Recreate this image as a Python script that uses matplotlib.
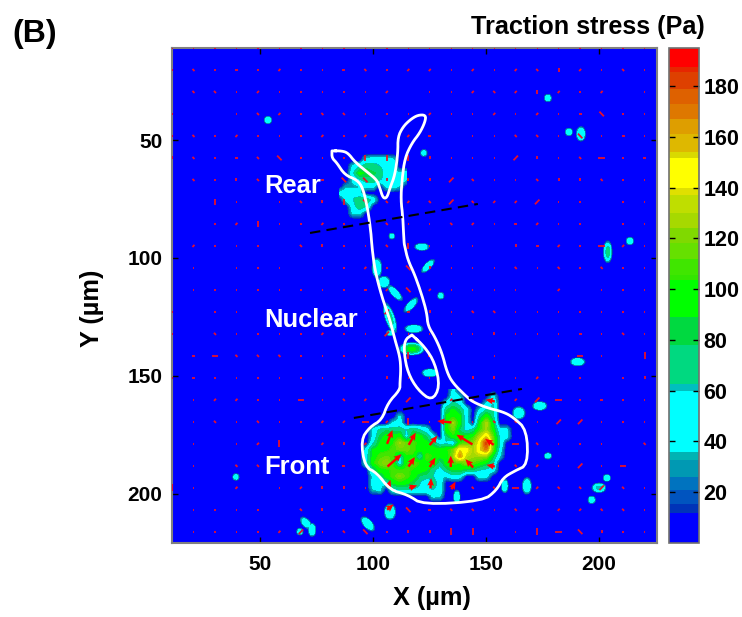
import numpy as np
import matplotlib
matplotlib.use("Agg")
import matplotlib.pyplot as plt
from matplotlib.collections import LineCollection

plt.rcParams['font.family'] = ['Liberation Sans', 'DejaVu Sans']
plt.rcParams['font.weight'] = 'bold'

X_TICKS = [50, 100, 150, 200]
Y_TICKS = [50, 100, 150, 200]
CBAR_TICKS = [20, 40, 60, 80, 100, 120, 140, 160, 180]
X_LIM = (11, 225.7)
Y_LIM = (220.8, 11)

# colour bands of the traction scale
BAND_EDGES = [0, 11.7, 15.3, 20.8, 26, 32.6, 36, 60, 62.5, 78, 89, 103.7, 105.7, 112, 118, 124,
              130, 137, 140, 151.5, 154, 161, 167, 173, 179, 185.6, 187.6, 195]
BAND_COLOURS = [(0, 0, 1), (0, .2, .72), (0, .33, .75), (0, .45, .75), (0, .6, .7), (0, .7, .7),
                (0, 1, 1), (0, .75, .75), (0, .85, .5), (0, .85, .25), (0, 1, 0), (.2, .9, 0),
                (.25, .9, 0), (.4, .88, 0), (.5, .85, 0), (.65, .85, 0), (.75, .87, 0), (.88, .88, 0),
                (1, 1, 0), (.85, .85, 0), (.87, .72, 0), (.87, .62, 0), (.87, .47, 0), (.87, .38, 0),
                (.87, .25, 0), (.9, .15, 0), (1, 0, 0)]

# traction (Pa) sampled over the front of the cell
FRONT_X0, FRONT_DX, FRONT_Y0, FRONT_DY = 94.15, 2.95, 155.9, 2.82
FRONT = [
 [0,0,0,0,0,0,0,0,0,0,0,0,0,0,40,0,0,0,0,0,0,0,0,0],
 [0,0,0,0,0,0,0,0,0,0,0,0,0,0,50,35,0,0,0,0,40,0,0,0],
 [0,0,0,0,0,0,0,0,0,0,0,0,0,40,65,50,0,0,0,35,60,0,0,0],
 [0,0,0,0,0,0,0,0,0,0,0,0,0,75,92,75,45,0,35,60,65,0,0,0],
 [0,0,0,0,0,0,40,0,0,0,0,0,0,92,100,92,40,0,65,100,65,0,0,0],
 [0,0,0,0,0,40,45,0,0,0,0,0,0,92,125,92,45,0,95,130,85,0,0,0],
 [0,0,40,65,75,70,70,60,75,60,45,0,0,95,115,75,50,65,105,125,95,40,40,0],
 [0,0,40,80,95,95,100,45,95,95,75,40,0,70,98,95,92,100,130,150,110,55,45,0],
 [0,0,55,90,98,102,125,115,108,98,95,75,45,55,30,102,110,120,145,185,115,60,0,0],
 [0,45,90,98,100,108,115,115,108,95,100,98,95,100,115,150,145,125,150,170,110,45,0,0],
 [0,50,95,108,112,108,50,100,102,50,108,102,92,95,120,165,130,125,125,120,80,35,0,0],
 [0,50,100,115,125,102,35,102,110,102,102,98,65,95,108,102,120,110,98,85,60,0,0,0],
 [0,0,65,98,100,108,102,108,102,98,90,65,50,70,90,90,80,75,60,55,45,0,0,0],
 [0,0,40,65,95,108,120,108,98,75,70,60,40,35,50,45,0,0,45,40,0,0,0,0],
 [0,0,45,40,45,90,98,92,80,60,35,70,50,0,0,0,0,0,0,0,0,0,0,0],
 [0,0,35,40,0,50,60,60,55,55,60,60,50,0,0,0,0,0,0,0,0,0,0,0],
 [0,0,0,0,0,0,0,0,0,0,0,40,35,0,0,0,0,0,0,0,0,0,0,0],
 [0,0,0,0,0,0,0,0,0,0,0,0,0,0,0,0,0,0,0,0,0,0,0,0],
]
# traction (Pa) sampled over the rear of the cell
REAR_X0, REAR_DX, REAR_Y0, REAR_DY = 85.3, 2.95, 55.6, 2.82
REAR = [
 [0,0,0,0,0,0,0,0,0,0,0],
 [0,0,0,0,45,50,50,50,40,0,0],
 [0,0,40,60,75,70,60,50,40,0,0],
 [0,0,55,95,85,80,75,40,40,40,45],
 [0,0,40,55,70,75,60,50,55,50,35],
 [0,30,30,35,40,40,0,40,45,30,0],
 [45,50,50,40,0,0,0,0,0,0,0],
 [0,45,60,75,75,50,0,0,0,0,0],
 [0,0,50,75,60,0,0,0,0,0,0],
 [0,0,40,40,0,0,0,0,0,0,0],
 [0,0,0,0,0,0,0,0,0,0,0],
]
# isolated hot spots
SPOT_X = [53.5,39.3,70.3,73,67.6,177.4,186.7,192,203.9,213.7,190.6,173.8,164.5,177.4,158.3,168.1,200,
          203.5,196.8,107.5,97.7,137.1,125.2,121.6,124.3,101.7,104.8,109.7,130,116.8,107.5,118.1,117.2,
          107.5,122.5,108.3]
SPOT_Y = [41.5,192.8,212.3,215.2,216,32.2,46.6,47.4,97.4,92.8,144,162.7,165.7,183.9,196.6,196.6,197.4,
          193.2,202.5,207.6,212.7,201.3,148.7,95.3,103.4,104.2,110.2,114.8,116,119.9,125.4,130,138.5,
          131.8,55.5,90.7]
SPOT_A = [.9,.8,1.8,.9,.8,.9,.9,1.1,1,.9,1.8,1.8,1.6,.9,.8,1.1,1.7,.9,.9,1.4,2.2,.8,2,1.8,2.2,1.2,1.5,
          2.6,.8,2.4,3.8,2.3,3,.9,.8,.7]
SPOT_B = [.9,.8,.9,1.6,.8,.9,.9,1.7,2.6,.9,.9,1,1.5,.7,1.7,2,1.1,.8,.9,1.9,1,1.7,.9,.8,.7,2.4,1.4,.8,
          .8,.8,1.1,.9,1.4,.7,.8,.7]
SPOT_ANGLE = [0,0,45,0,0,0,0,0,0,0,0,0,0,0,0,0,0,0,0,0,45,0,0,0,-45,0,0,45,0,-45,70,0,0,0,0,0]
SPOT_PEAK = [50,45,50,55,45,45,50,60,65,50,60,58,52,50,52,55,62,50,50,58,55,50,60,55,52,55,55,50,45,50,
             65,60,90,45,45,45]

# orientation of the small vectors on the measuring grid
# o dot, h - , v | , r /, f \ ; capitals are the longer ones
VEC_X0, VEC_DX, VEC_Y0, VEC_DY = 11, 9.51, 11, 9.32
VECTORS = [
 "ooooooooooooooooooooooo",
 "hfohoroo"+"hforroro"+"rfvrofo",
 " fforooo"+"oor oorf"+"rvror o",
 "o  ofrof"+"foooroor"+"orohFoo",
 "oforooor"+"orfrh oo"+"ffoFoho",
 "vfohfFoo"+"oVVVvooo"+"RvofHoh",
 " fovf  h"+"FFvvvRfo"+"ofvvfoo",
 "  Vo ofv"+"VFfrfRfr"+"rRoo oo",
 "  orVoor"+"o foofro"+"hroo oo",
 " rooo fv"+"oofVooo "+"vhroHro",
 " o ooo o"+"oroFvooo"+"fofofoo",
 " ooooooo"+"ohrFrooo"+"o r ooo",
 "o oo   o"+" oRhvoff"+"ooooooo",
 "o foooor"+"ooRoooov"+"ooohofo",
 " hHfffoo"+"oooVh  o"+"  oHo V",
 "ohoooooo"+"o voo vv"+"oroo ov",
 " orrooHo"+"fr R rh "+"rRHohoo",
 " ofofoor"+"rHrVo of"+"foRRooo",
 " o orV r"+"vr      "+"Hfooo f",
 " o ffo  "+"h       "+"froRoH ",
 "Vo r orv"+"vo    ff"+"HrffRfo",
 " oooo fv"+"hv Fhffo"+"frrrffo",
 " oooorRo"+"fFovvVV "+"oVHFvoo",
]
# large force vectors in the front of the cell
BIG_X = [106.2,115.8,125.1,144,153.4,134.7,106.4,115.7,125.1,134.4,144.3,153.9,106.5,116,125.4,134.7,106.2,153.9]
BIG_Y = [178.8,179.2,179.3,179,179.2,169.7,188.4,188.4,188.6,188.6,188.8,188.4,197.5,197.5,197.7,198,206.7,160.8]
BIG_U = [2.4,3.1,3.4,-7.1,-3.7,-6.3,6.2,2.8,2.5,0,-3.4,-3.7,1.2,3.5,.3,1.8,2.9,-4.1]
BIG_V = [-5.9,-5.2,-4,-4.1,-2.5,-.6,-5.2,-4,-4,-4.8,-3.5,-.7,-3.5,-1.1,-4.4,-3.2,-2.3,-.7]

# cell outline (um)
CELL_X = [81.8,86.2,88.9,92,97.3,101.7,103,104.4,106.1,107.5,109.7,111,111,113.2,116.3,119.8,123.4,123,120.7,
          117.2,114.1,112.8,112.3,113.2,113.7,114.1,115.4,118.5,121.6,123.8,124.3,127.4,130.5,132.7,135.3,141.5,
          144.2,150.4,157.5,161.9,168.1,168.5,162.8,157.5,154.8,148.6,122.1,115.4,107.5,101.7,96.4,94.6,98.6,103.9,
          106.6,111.9,111.9,112.3,111.9,109.7,107.5,103.9,100.8,99.5,99.1,97.7,95.5,92.9,87.5,84,81.8,81.8]
CELL_Y = [54.6,54.6,55.5,59.3,63.5,66.9,70.3,74.6,74.6,70.3,64.8,55.5,48.7,44.5,41.5,39.4,39.4,42.4,47,
          51.3,57.6,66.9,75.4,82.6,93.6,95.3,100.8,107.2,115.7,123.3,128.8,133.5,140.2,148.3,153,158.9,
          161,163.5,165.2,167.4,172.9,187.7,190.2,193.2,198.3,203,204.6,200.4,198.3,191.1,188.5,177.1,171.6,168.6,
          161.4,155.9,153,147.4,141.9,134.7,126.3,116.5,105.1,95.3,89.4,79.6,70.3,66.9,64.8,59.7,57.6,54.6]
NUC_X = [117.2,122.9,127.4,129.6,126,119.8,115.4,113.7,114.1,117.2]
NUC_Y = [132.6,137.7,144.5,154.6,160.6,155.9,148.7,140.2,134.7,132.6]
DIV_REAR_X, DIV_REAR_Y = [72.1, 146.4], [89.4, 77.1]
DIV_FRONT_X, DIV_FRONT_Y = [91.5, 165.9], [167.8, 155.5]

REGION_NAMES = ["Rear", "Nuclear", "Front"]
REGION_X = [51.8, 51.8, 51.8]
REGION_Y = [69.7, 126.2, 188.7]

# assemble the field
gx = np.arange(X_LIM[0], X_LIM[1] + .25, .5)
gy = np.arange(Y_LIM[1], Y_LIM[0] + .25, .5)
XX, YY = np.meshgrid(gx, gy)
field = np.zeros_like(XX)

def resample(mat, x0, dx, y0, dy):
    m = np.array(mat, float)
    xs = x0 + dx * np.arange(m.shape[1])
    ys = y0 + dy * np.arange(m.shape[0])
    t = np.array([np.interp(gx, xs, r, left=0, right=0) for r in m])
    return np.array([np.interp(gy, ys, t[:, j], left=0, right=0) for j in range(t.shape[1])]).T

def rounded(xs, ys, passes=2):
    p = np.column_stack([xs, ys])
    for _ in range(passes):
        q = np.empty((2 * len(p), 2))
        nxt = np.roll(p, -1, axis=0)
        q[0::2] = .75 * p + .25 * nxt
        q[1::2] = .25 * p + .75 * nxt
        p = q
    p = np.vstack([p, p[:1]])
    return p[:, 0], p[:, 1]

field = np.maximum(field, resample(FRONT, FRONT_X0, FRONT_DX, FRONT_Y0, FRONT_DY))
field = np.maximum(field, resample(REAR, REAR_X0, REAR_DX, REAR_Y0, REAR_DY))
for x, y, a, b, ang, p in zip(SPOT_X, SPOT_Y, SPOT_A, SPOT_B, SPOT_ANGLE, SPOT_PEAK):
    c, s = np.cos(np.radians(ang)), np.sin(np.radians(ang))
    d1 = (XX - x) * c + (YY - y) * s
    d2 = -(XX - x) * s + (YY - y) * c
    r2 = (d1 / (1.3 * a)) ** 2 + (d2 / (1.3 * b)) ** 2
    field = np.maximum(field, p * np.exp(-.5 * r2 ** 2))

fig = plt.figure(figsize=(7.42, 6.17), dpi=100)
W, H = 742, 617
ax = fig.add_axes([172 / W, 1 - 543 / H, 485 / W, 495 / H])
cax = fig.add_axes([669 / W, 1 - 543 / H, 30 / W, 495 / H])

cs = ax.contourf(XX, YY, np.clip(field, 0, 194.9), levels=BAND_EDGES, colors=BAND_COLOURS)
cs.set_edgecolor('face')
cs.set_linewidth(.3)

DIRS = {'o': (.3, 0), 'h': (.65, 0), 'v': (0, .65), 'r': (.45, -.45), 'f': (.45, .45)}
LONG = 2.2
segments = []
for i, row in enumerate(VECTORS):
    for j, ch in enumerate(row):
        if ch == ' ':
            continue
        u, v = DIRS[ch.lower()]
        if ch.isupper():
            u, v = u * LONG, v * LONG
        cx, cy = VEC_X0 + VEC_DX * j, VEC_Y0 + VEC_DY * i
        segments.append([(cx - u, cy - v), (cx + u, cy + v)])
ax.add_collection(LineCollection(segments, colors='#e8102a', linewidths=1.3, capstyle='butt', zorder=3))
ax.quiver(BIG_X, BIG_Y, BIG_U, BIG_V, angles='xy', scale_units='xy', scale=1, color='#ff0000', units='dots',
          width=2.4, headwidth=2.8, headlength=3.2, headaxislength=2.8, zorder=3)

ax.plot(*rounded(CELL_X, CELL_Y), color='white', lw=2, solid_joinstyle='round', zorder=4)
ax.plot(*rounded(NUC_X, NUC_Y), color='white', lw=2, zorder=4)
ax.plot(DIV_REAR_X, DIV_REAR_Y, color='black', lw=1.5, dashes=(5, 3), zorder=4)
ax.plot(DIV_FRONT_X, DIV_FRONT_Y, color='black', lw=1.5, dashes=(5, 3), zorder=4)

for name, x, y in zip(REGION_NAMES, REGION_X, REGION_Y):
    ax.text(x, y, name, color='white', fontsize=18.4, fontweight='bold', ha='left', va='center', zorder=5)

ax.set_xlim(*X_LIM)
ax.set_ylim(*Y_LIM)
ax.set_xticks(X_TICKS)
ax.set_yticks(Y_TICKS)
ax.tick_params(axis='x', direction='in', top=True, right=True, length=4, width=1, labelsize=15, pad=9)
ax.tick_params(axis='y', direction='in', left=True, right=True, length=4, width=1, labelsize=15, pad=7)
for s in ax.spines.values():
    s.set_color('#808080')
    s.set_linewidth(1.5)

cb = fig.colorbar(cs, cax=cax, spacing='proportional', drawedges=False)
cb.set_ticks(CBAR_TICKS)
cb.set_ticklabels([str(t) for t in CBAR_TICKS])
cax.tick_params(direction='in', left=True, right=True, length=4, width=1, labelsize=15.5, pad=3, which='major')
cax.minorticks_off()
cb.outline.set_edgecolor('#707070')
cb.outline.set_linewidth(1.2)

fig.text(432 / W, 1 - 598 / H, "X (\u00b5m)", fontsize=18.3, fontweight='bold', ha='center', va='center')
fig.text(92 / W, 1 - 308 / H, "Y (\u00b5m)", fontsize=18.3, fontweight='bold', ha='center', va='center', rotation=90)
fig.text(471 / W, 1 - 27 / H, "Traction stress (Pa)", fontsize=18.2, fontweight='bold', ha='left', va='center')
fig.text(12 / W, 1 - 34 / H, "(B)", fontsize=23, fontweight='bold', ha='left', va='center')

fig.savefig("out.png", dpi=100)
